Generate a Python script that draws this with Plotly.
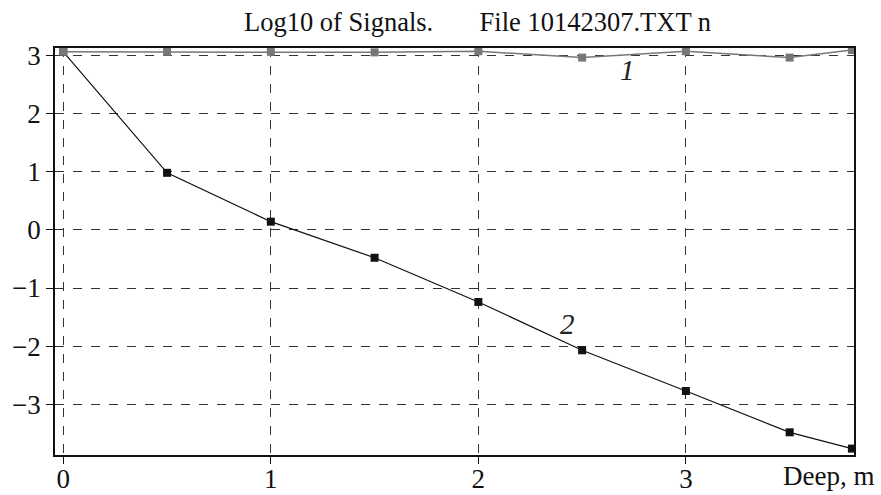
import plotly.graph_objects as go

# Depth of each measurement, m
depth = [0, 0.5, 1, 1.5, 2, 2.5, 3, 3.5, 3.8]
# Log10 of the two signals
signal_1 = [3.06, 3.06, 3.06, 3.05, 3.07, 2.96, 3.07, 2.96, 3.09]
signal_2 = [3.06, 0.98, 0.14, -0.48, -1.24, -2.07, -2.77, -3.48, -3.76]

x_ticks = [0, 1, 2, 3]
y_ticks = [-3, -2, -1, 0, 1, 2, 3]
y_tick_text = ["\u22123", "\u22122", "\u22121", "0", "1", "2", "3"]

serif = '"Liberation Serif", "Times New Roman", serif'
gap = "&nbsp;" * 7

fig = go.Figure()
fig.add_trace(go.Scatter(
    x=depth, y=signal_2, mode="lines+markers",
    line=dict(color="#111111", width=1.2),
    marker=dict(symbol="square", size=8, color="#111111"),
    showlegend=False,
))
fig.add_trace(go.Scatter(
    x=depth, y=signal_1, mode="lines+markers",
    line=dict(color="#777777", width=1.5),
    marker=dict(symbol="square", size=8, color="#777777"),
    showlegend=False,
))

fig.add_annotation(x=2.72, y=2.74, text="<i>1</i>", showarrow=False,
                   font=dict(family=serif, size=29, color="#222222"))
fig.add_annotation(x=2.43, y=-1.62, text="<i>2</i>", showarrow=False,
                   font=dict(family=serif, size=29, color="#222222"))
fig.add_annotation(x=1.0, xref="paper", y=-0.052, yref="paper",
                   text="Deep, m", showarrow=False, xanchor="right", yanchor="middle",
                   xshift=22, font=dict(family=serif, size=27, color="#111111"))

axis_common = dict(
    showline=True, linecolor="#111111", linewidth=1.5, mirror=True,
    showgrid=True, gridcolor="#333333", griddash="dash", gridwidth=1,
    zeroline=False, ticks="outside", ticklen=7, tickcolor="#111111",
    tickfont=dict(family=serif, size=27, color="#111111"),
    automargin=False,
)

fig.update_layout(
    width=881, height=495,
    margin=dict(l=55, r=27, t=48, b=40),
    paper_bgcolor="white", plot_bgcolor="white",
    title=dict(text="Log10 of Signals." + gap + "File 10142307.TXT n",
               x=477.5 / 881, xanchor="center", y=1 - 22 / 495, yanchor="middle",
               font=dict(family=serif, size=26.5, color="#111111")),
    xaxis=dict(range=[-0.04, 3.81], tickvals=x_ticks, ticklabelstandoff=-8,
               **axis_common),
    yaxis=dict(range=[-3.87, 3.125], tickvals=y_ticks, ticktext=y_tick_text,
               **axis_common),
)

fig.write_html("out.html")
